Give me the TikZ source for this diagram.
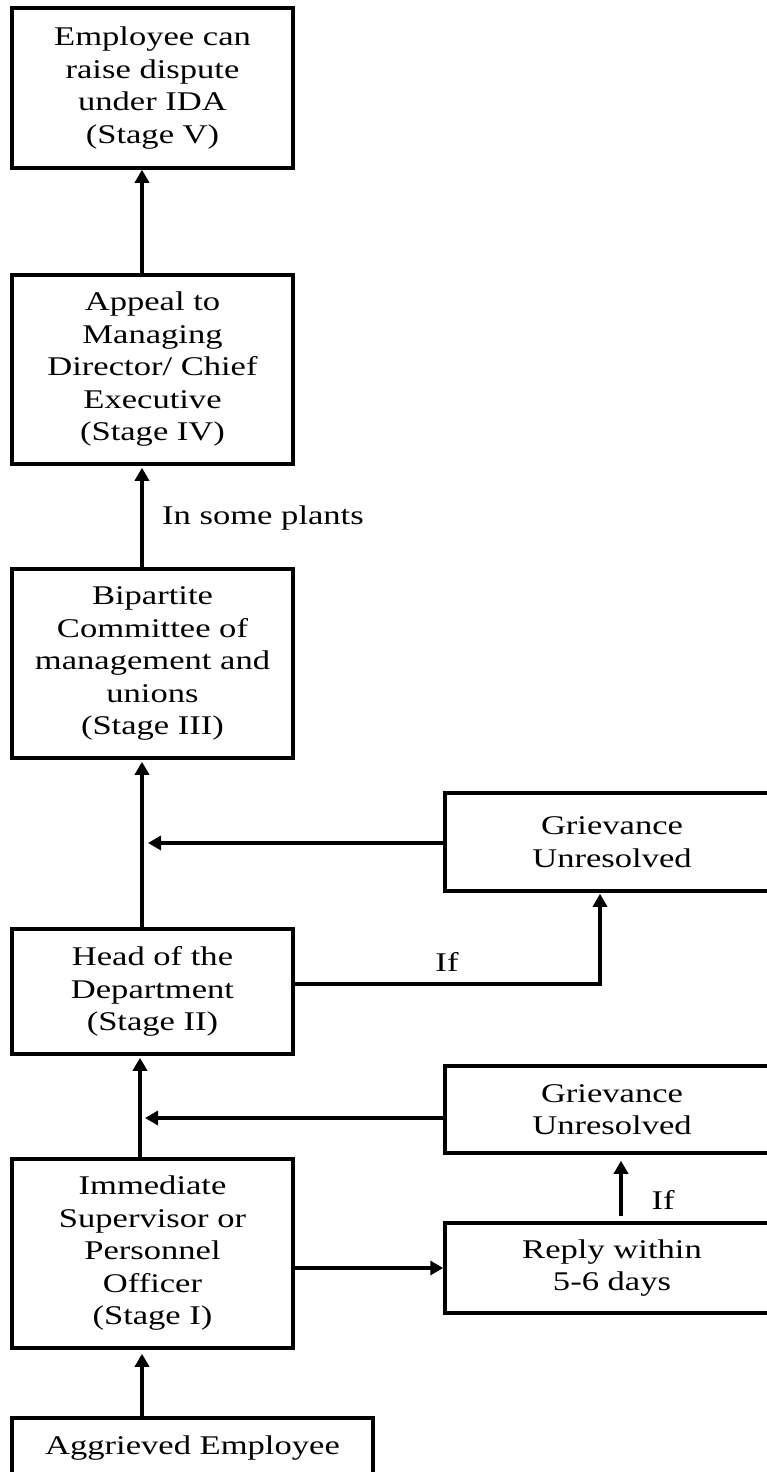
\documentclass[tikz,border=0pt]{standalone}
\usepackage{fontspec}
\setmainfont{Liberation Serif}[FakeStretch=1.28]
\usetikzlibrary{arrows.meta}

\tikzset{
  box/.style={draw, line width=3.5pt, inner sep=0pt, align=center,
    font=\fontsize{27}{32.5}\selectfont},
  lbl/.style={inner sep=0pt, font=\fontsize{27}{32.5}\selectfont},
  arr/.style={line width=3.5pt, -{Triangle[length=13pt,width=14pt]}}
}

\begin{document}
\begin{tikzpicture}[x=1pt,y=-1pt]
\useasboundingbox (0,0) rectangle (767,1472);

% stage boxes on the left
\node[box, minimum width=281pt, minimum height=160pt] (s5) at (152.5,88)
  {Employee can\\raise dispute\\under IDA\\(Stage V)};
\node[box, minimum width=281pt, minimum height=189pt] (s4) at (152.5,369.5)
  {Appeal to\\Managing\\Director/ Chief\\Executive\\(Stage IV)};
\node[box, minimum width=281pt, minimum height=189pt] (s3) at (152.5,663.5)
  {Bipartite\\Committee of\\management and\\unions\\(Stage III)};
\node[box, minimum width=281pt, minimum height=125pt] (s2) at (152.5,991.5)
  {Head of the\\Department\\(Stage II)};
\node[box, minimum width=281pt, minimum height=189pt] (s1) at (152.5,1253.5)
  {Immediate\\Supervisor or\\Personnel\\Officer\\(Stage I)};
\node[box, minimum width=361pt, minimum height=60pt] (emp) at (192.5,1448)
  {Aggrieved Employee};

% boxes on the right
\node[box, minimum width=334pt, minimum height=98pt] (g1) at (612,842)
  {Grievance\\Unresolved};
\node[box, minimum width=334pt, minimum height=87pt] (g2) at (612,1109.5)
  {Grievance\\Unresolved};
\node[box, minimum width=334pt, minimum height=90pt] (rep) at (612,1268)
  {Reply within\\5-6 days};

% points where the side branches meet the main line
\coordinate (j1) at (148,843);
\coordinate (j2) at (145,1118);

% main line upwards
\draw[arr] ([xshift=-50.5pt]emp.north) -- ([xshift=-10.5pt,yshift=-4pt]s1.south);
\draw[arr] ([xshift=-12.5pt]s1.north) -- ([xshift=-12.5pt,yshift=-2pt]s2.south);
\draw[arr] ([xshift=-10.5pt]s2.north) -- ([xshift=-10.5pt,yshift=-2pt]s3.south);
\draw[arr] ([xshift=-10.5pt]s3.north) -- ([xshift=-10.5pt,yshift=-2pt]s4.south);
\draw[arr] ([xshift=-10.5pt]s4.north) -- ([xshift=-10.5pt]s5.south);

% side branches
\draw[arr] (rep.west -| s1.east) -- (rep.west);
\draw[arr] ([xshift=9pt,yshift=5pt]rep.north) -- ([xshift=9pt,yshift=-6pt]g2.south);
\draw[arr] (g2.west |- j2) -- (j2);
\draw[arr] ([yshift=7.5pt]s2.east) -| ([xshift=-12pt,yshift=-1pt]g1.south);
\draw[arr] (g1.west |- j1) -- (j1);

% labels
\node[lbl, anchor=west] (lsome) at (162,518) {In some plants};
\node[lbl] (lif1) at (447,962) {If};
\node[lbl] (lif2) at (663,1200) {If};
\end{tikzpicture}
\end{document}
